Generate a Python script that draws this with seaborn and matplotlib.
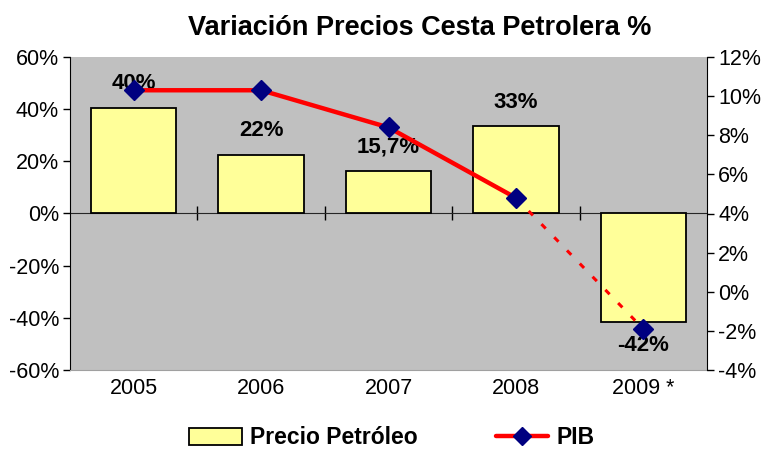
import numpy as np
import pandas as pd
import matplotlib
matplotlib.use("Agg")
from matplotlib import pyplot as plt
from matplotlib.patches import Patch
from matplotlib.lines import Line2D
from matplotlib.ticker import FuncFormatter, FixedLocator
import seaborn as sb

# data
years = ["2005", "2006", "2007", "2008", "2009 *"]
precio = [40.6, 22.6, 16.4, 33.6, -41.5]          # bar heights (%)
precio_labels = ["40%", "22%", "15,7%", "33%", "-42%"]
pib = [10.3, 10.3, 8.4, 4.8, -1.9]                 # PIB line (%)

sb.set_style("white")
plt.rcParams["font.family"] = ["Liberation Sans", "DejaVu Sans"]
plt.rcParams["text.color"] = "black"
plt.rcParams["xtick.color"] = "black"
plt.rcParams["ytick.color"] = "black"

fig = plt.figure(figsize=(7.82, 4.5), dpi=100)
ax = fig.add_axes([70 / 782, 1 - 370 / 450, 637 / 782, 313 / 450])
ax.set_facecolor("#C0C0C0")

df = pd.DataFrame({"year": years, "precio": precio})
sb.barplot(data=df, x="year", y="precio", color="#FFFF99", saturation=1,
           edgecolor="black", linewidth=1.3, width=0.67, ax=ax)

ax.set_xlim(-0.5, len(years) - 0.5)
ax.set_ylim(-60, 60)
ax.set_yticks(np.arange(-60, 61, 20))
ax.yaxis.set_major_formatter(FuncFormatter(lambda v, p: f"{v:.0f}%"))
ax.set_xlabel("")
ax.set_ylabel("")
ax.tick_params(axis="y", direction="out", length=5, width=1, labelsize=15.5, left=True, pad=3)
ax.tick_params(axis="x", length=0, labelsize=15.5, pad=6)

for s in ["top", "right"]:
    ax.spines[s].set_visible(False)
ax.spines["bottom"].set_color("#A0A0A0")
ax.spines["left"].set_color("black")

# category axis drawn at 0 with crossing tick marks
sec = ax.secondary_xaxis(0.5)
sec.set_xticks([])
sec.xaxis.set_minor_locator(FixedLocator(np.arange(0.5, len(years) - 1, 1)))
sec.tick_params(which="minor", direction="inout", length=10, width=1, color="black")
sec.spines["bottom"].set_color("black")
sec.spines["bottom"].set_linewidth(1)

# bar data labels
for i, (v, lab) in enumerate(zip(precio, precio_labels)):
    off = 17 if v >= 0 else -17
    ax.annotate(lab, (i, v), xytext=(0, off), textcoords="offset points",
                ha="center", va="center", fontsize=16, fontweight="bold", zorder=6)

# PIB on right axis
ax2 = ax.twinx()
ax2.set_ylim(-4, 12)
ax2.set_yticks(np.arange(-4, 13, 2))
ax2.yaxis.set_major_formatter(FuncFormatter(lambda v, p: f"{v:.0f}%"))
ax2.tick_params(axis="y", direction="out", length=5, width=1, labelsize=15.5, right=True, pad=3)
for s in ["top", "left", "bottom"]:
    ax2.spines[s].set_visible(False)
ax2.spines["right"].set_color("black")

xpos = np.arange(len(years))
ax2.plot(xpos[3:], pib[3:], color="red", lw=2.2, ls=(0, (2, 4)), zorder=2)
ax2.plot(xpos[:4], pib[:4], color="red", lw=3.2, zorder=3)
ax2.plot(xpos, pib, ls="none", marker="D", markersize=10, color="#000080", zorder=4)

fig.text(420 / 782, 1 - 28 / 450, "Variación Precios Cesta Petrolera %",
         ha="center", va="center", fontsize=19.5, fontweight="bold")

handles = [Patch(facecolor="#FFFF99", edgecolor="black", linewidth=1.3),
           Line2D([0], [0], color="red", lw=3.2, marker="D", markersize=9,
                  markerfacecolor="#000080", markeredgecolor="#000080")]
fig.legend(handles, ["Precio Petróleo", "PIB"], loc="center", bbox_to_anchor=(392 / 782, 1 - 438 / 450),
           ncol=2, frameon=False, prop={"weight": "bold", "size": 16.5}, columnspacing=3.4,
           handlelength=2.3, handletextpad=0.35)

fig.savefig("out.png", dpi=100)
